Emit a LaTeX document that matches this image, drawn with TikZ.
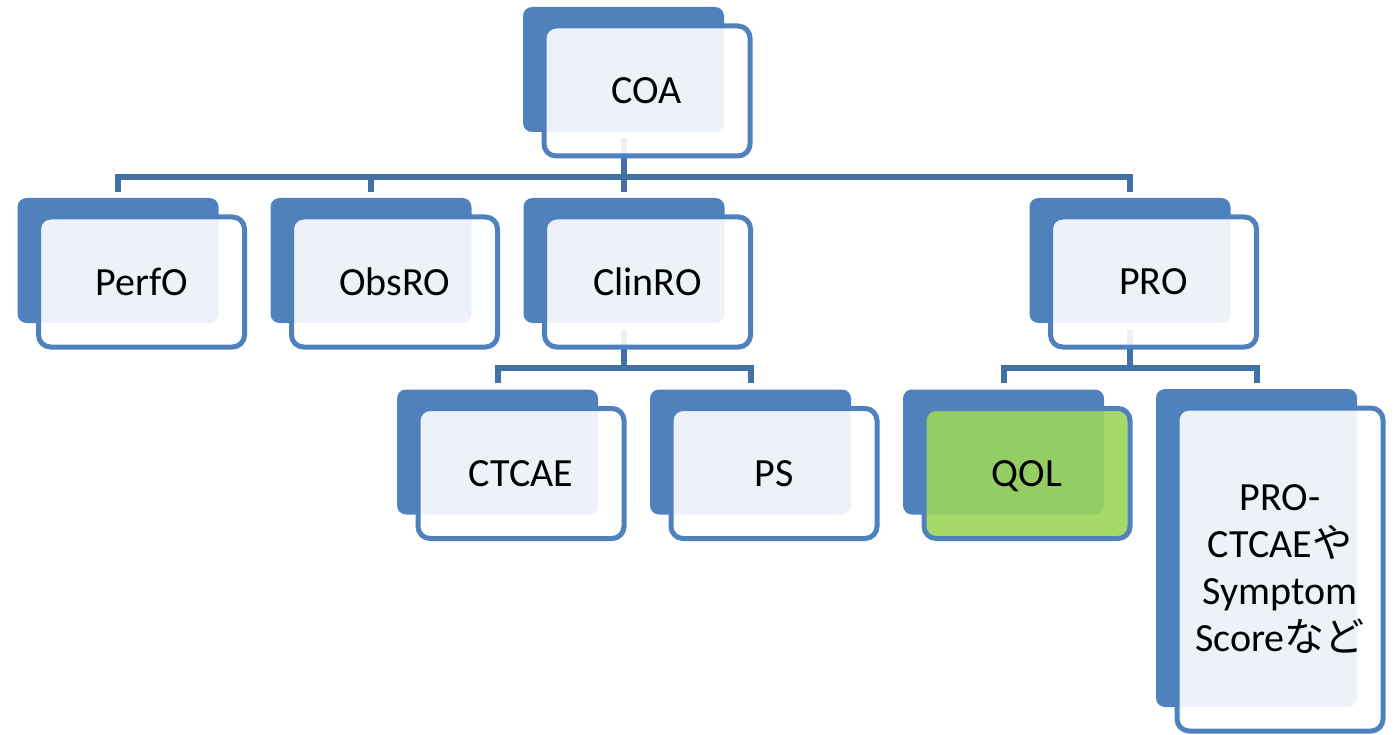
\documentclass[tikz,border=0pt]{standalone}
\usepackage{fontspec}
\setmainfont{Carlito}
\newfontfamily\cjk{Noto Sans CJK JP}
\usetikzlibrary{calc}
\definecolor{accent}{RGB}{79,129,189}
\definecolor{connc}{RGB}{66,113,165}
\definecolor{qolgreen}{RGB}{155,214,90}
\begin{document}
\begin{tikzpicture}[x=1pt,y=-1pt,
  backbox/.style={fill=accent, rounded corners=9pt, minimum width=201pt, minimum height=125pt, inner sep=0pt},
  frontbox/.style={draw=accent, line width=5pt, fill=white, fill opacity=0.9, text opacity=1,
    rounded corners=12pt, minimum width=206pt, minimum height=130pt, inner sep=0pt,
    font=\fontsize{40}{47}\selectfont, align=center},
  connline/.style={draw=connc, line width=6pt}]
\useasboundingbox (0,0) rectangle (1396,735);
% back boxes
\node[backbox] (coab) at (623.5,69.5) {};
\node[backbox] (perfob) at (118,260.5) {};
\node[backbox] (obsrob) at (371,260.5) {};
\node[backbox] (clinrob) at (624,260.5) {};
\node[backbox] (prob) at (1130,260.5) {};
\node[backbox] (ctcaeb) at (497.5,452) {};
\node[backbox] (psb) at (750.5,452) {};
\node[backbox] (qolb) at (1003.5,452) {};
\node[backbox, minimum height=318pt] (procb) at (1256.5,548) {};
% connectors
\coordinate (busa) at (0,177);
\coordinate (busb) at (0,368);
\draw[connline] ($(coab.south)+(0,6)$) -- (coab.south |- busa);
\draw[connline] ($(perfob.north)+(0,-6)$) |- (prob.north |- busa) -- ($(prob.north)+(0,-6)$);
\draw[connline] ($(obsrob.north)+(0,-6)$) -- (obsrob.north |- busa);
\draw[connline] ($(clinrob.north)+(0,-6)$) -- (clinrob.north |- busa);
\draw[connline] ($(clinrob.south)+(0,6)$) -- (clinrob.south |- busb);
\draw[connline] ($(ctcaeb.north)+(0,-6)$) |- (psb.north |- busb) -- ($(psb.north)+(0,-6)$);
\draw[connline] ($(prob.south)+(0,6)$) -- (prob.south |- busb);
\draw[connline] ($(qolb.north)+(0,-6)$) |- (procb.north |- busb) -- ($(procb.north)+(0,-6)$);
% front boxes
\node[frontbox] (coa) at ($(coab)+(23.5,21.5)$) {COA};
\node[frontbox] (perfo) at ($(perfob)+(23.5,21.5)$) {PerfO};
\node[frontbox] (obsro) at ($(obsrob)+(23.5,21.5)$) {ObsRO};
\node[frontbox] (clinro) at ($(clinrob)+(23.5,21.5)$) {ClinRO};
\node[frontbox] (pro) at ($(prob)+(23.5,21.5)$) {PRO};
\node[frontbox] (ctcae) at ($(ctcaeb)+(23.5,21.5)$) {CTCAE};
\node[frontbox] (ps) at ($(psb)+(23.5,21.5)$) {PS};
\node[frontbox, fill=qolgreen] (qol) at ($(qolb)+(23.5,21.5)$) {\raisebox{0pt}[\height][0pt]{QOL}};
\node[frontbox, minimum height=323pt] (proc) at ($(procb)+(23.5,21.5)$) {PRO-\\CTCAE{\cjk や}\\Symptom\\Score{\cjk など}};
\end{tikzpicture}
\end{document}
